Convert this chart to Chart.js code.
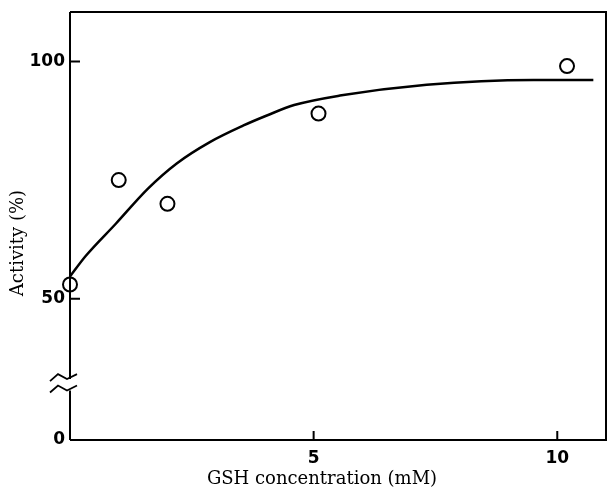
<!DOCTYPE html>
<html>
<head>
<meta charset="utf-8">
<script src="https://cdn.jsdelivr.net/npm/chart.js@4/dist/chart.umd.min.js"></script>
<style>
  html, body { margin: 0; padding: 0; background: #fff; }
  canvas { display: block; }
</style>
</head>
<body>
<canvas id="c" width="610" height="495"></canvas>
<script>
// ---- data ----
const gshConc = [0, 1, 2, 5.1, 10.2];            // mM (measured points)
const activity = [53, 75, 70, 89, 99];           // %
const curveConc = [0, 0.33, 0.94, 1.6, 2.19, 2.87, 3.56, 4.04, 4.6, 5.54, 7.32, 9.51, 10.74];
const curveActivity = [54.7, 59.1, 65.8, 73.2, 78.5, 83.0, 86.5, 88.6, 90.8, 92.8, 95.1, 96.1, 96.1];
const xTickValues = [5, 10];
const yTickValues = [0, 50, 100];
const xTitle = 'GSH concentration (mM)';
const yTitle = 'Activity (%)';

// broken y axis: values below 50 are compressed onto a short segment
const BREAK_TOP = 50, ZERO_POS = 20.25;
function axisPos(v) { return v >= BREAK_TOP ? v : ZERO_POS + v * (BREAK_TOP - ZERO_POS) / BREAK_TOP; }
const BREAK_UPPER = 33.5, BREAK_LOWER = 31.1;

const tickFont = { family: 'DejaVu Sans', weight: 'bold', size: 17 };
const serifFont = '18px "DejaVu Serif"';

const framePlugin = {
  id: 'frame',
  afterDraw(chart) {
    const ctx = chart.ctx, a = chart.chartArea;
    const xs = chart.scales.x, ys = chart.scales.y;
    ctx.save();
    ctx.strokeStyle = '#000';
    ctx.lineWidth = 2;
    ctx.lineCap = 'butt';
    // top, right, bottom
    ctx.beginPath();
    ctx.moveTo(a.left, a.top); ctx.lineTo(a.right, a.top);
    ctx.lineTo(a.right, a.bottom); ctx.lineTo(a.left, a.bottom);
    ctx.stroke();
    // left axis with break
    const yU = ys.getPixelForValue(BREAK_UPPER), yL = ys.getPixelForValue(BREAK_LOWER);
    const L = a.left;
    ctx.beginPath();
    ctx.moveTo(L, a.top); ctx.lineTo(L, yU + 2);
    ctx.moveTo(L, yL + 2); ctx.lineTo(L, a.bottom);
    ctx.stroke();
    // break zigzags
    ctx.lineWidth = 1.8;
    [yU, yL].forEach(yy => {
      ctx.beginPath();
      ctx.moveTo(L - 20, yy + 4);
      ctx.lineTo(L - 12, yy - 3);
      ctx.lineTo(L - 3, yy + 2);
      ctx.lineTo(L + 7, yy - 3);
      ctx.stroke();
    });
    // inward ticks
    ctx.lineWidth = 2;
    ctx.beginPath();
    [50, 100].forEach(v => {
      const p = ys.getPixelForValue(axisPos(v));
      ctx.moveTo(L, p); ctx.lineTo(L + 10, p);
    });
    xTickValues.forEach(v => {
      const p = xs.getPixelForValue(v);
      ctx.moveTo(p, a.bottom); ctx.lineTo(p, a.bottom - 9);
    });
    ctx.stroke();
    // titles
    ctx.fillStyle = '#000';
    ctx.font = serifFont;
    ctx.textAlign = 'center';
    ctx.textBaseline = 'middle';
    ctx.fillText(xTitle, 322, 479);
    ctx.translate(18, 243);
    ctx.rotate(-Math.PI / 2);
    ctx.fillText(yTitle, 0, 0);
    ctx.restore();
  }
};

new Chart(document.getElementById('c'), {
  data: {
    datasets: [
      {
        type: 'line',
        data: curveConc.map((x, i) => ({ x: x, y: axisPos(curveActivity[i]) })),
        borderColor: '#000',
        borderWidth: 2.5,
        pointRadius: 0,
        cubicInterpolationMode: 'monotone',
        fill: false
      },
      {
        type: 'scatter',
        data: gshConc.map((x, i) => ({ x: x, y: axisPos(activity[i]) })),
        pointRadius: 7,
        pointBorderWidth: 2,
        pointBorderColor: '#000',
        pointBackgroundColor: 'rgba(255,255,255,0)',
        clip: false
      }
    ]
  },
  options: {
    responsive: false,
    animation: false,
    devicePixelRatio: 1,
    layout: { autoPadding: false, padding: { top: 12, right: 4, left: 0, bottom: 0 } },
    plugins: { legend: { display: false }, tooltip: { enabled: false } },
    scales: {
      x: {
        type: 'linear', min: 0, max: 11,
        afterFit: s => { s.height = 55; s.paddingLeft = 0; s.paddingRight = 0; },
        afterBuildTicks: s => { s.ticks = xTickValues.map(v => ({ value: v })); },
        grid: { display: false, drawTicks: false },
        border: { display: false },
        ticks: { font: tickFont, color: '#000', padding: 8, autoSkip: false, maxRotation: 0 }
      },
      y: {
        type: 'linear', min: ZERO_POS, max: 110.4,
        afterFit: s => { s.width = 70; s.paddingTop = 0; s.paddingBottom = 0; },
        afterBuildTicks: s => { s.ticks = yTickValues.map(v => ({ value: axisPos(v) })); },
        grid: { display: false, drawTicks: false },
        border: { display: false },
        ticks: {
          font: tickFont, color: '#000', padding: 5, autoSkip: false,
          callback: (val) => {
            const t = yTickValues.find(v => Math.abs(axisPos(v) - val) < 1e-6);
            return t === undefined ? '' : String(t);
          }
        }
      }
    }
  },
  plugins: [framePlugin]
});
</script>
</body>
</html>
